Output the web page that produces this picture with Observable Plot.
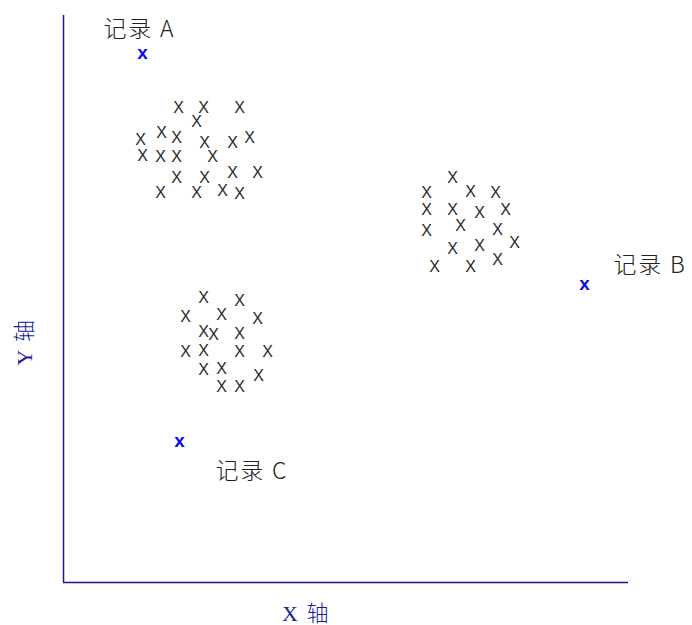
<!DOCTYPE html>
<html>
<head>
<meta charset="utf-8">
<script src="https://cdn.jsdelivr.net/npm/d3@7"></script>
<script src="https://cdn.jsdelivr.net/npm/@observablehq/plot@0.6"></script>
<style>
  html, body { margin: 0; padding: 0; background: #fff; }
</style>
</head>
<body>
<div id="chart"></div>
<script>
// Ordinary records (grey "X" marks), three clusters
const clusterX = [
  115, 140, 176, 133, 77, 98, 113, 141, 169, 186, 79, 97, 113, 149, 113, 141, 169, 194, 97, 133, 159, 176,
  140, 176, 122, 158, 194, 140, 150, 176, 122, 140, 176, 204, 140, 158, 195, 158, 176,
  389, 363, 407, 432, 363, 389, 416, 442, 363, 397, 434, 389, 416, 451, 371, 407, 434
];
const clusterY = [
  475, 475, 475, 461, 443, 450, 445, 440, 440, 445, 427, 426, 426, 426, 405, 405, 410, 410, 390, 390, 392, 389,
  285, 282, 266, 268, 264, 251, 248, 249, 231, 232, 231, 231, 213, 214, 207, 196, 196,
  405, 390, 391, 390, 373, 373, 370, 373, 352, 357, 353, 334, 337, 340, 316, 316, 323
];

// Highlighted records (blue "x")
const specialX = [79, 521, 116];
const specialY = [530, 299, 142];

// Record labels
const labelText = ["记录 A", "记录 B", "记录 C"];
const labelX = [40, 550, 152];
const labelY = [553, 317, 111];

const axisNames = { x: "X 轴", y: "Y 轴" };

const points = clusterX.map((x, i) => ({ x, y: clusterY[i] }));
const specials = specialX.map((x, i) => ({ x, y: specialY[i] }));
const labels = labelText.map((t, i) => ({ t, x: labelX[i], y: labelY[i] }));

const navy = "#1a1a8c";

const chart = Plot.plot({
  width: 692,
  height: 625,
  marginLeft: 63,
  marginRight: 64,
  marginTop: 15,
  marginBottom: 43,
  x: { domain: [0, 565], axis: null },
  y: { domain: [0, 567], axis: null },
  style: { background: "#fff", fontFamily: "'Liberation Sans', Arial, sans-serif" },
  marks: [
    Plot.ruleX([0], { stroke: navy, strokeWidth: 1.5 }),
    Plot.ruleY([0], { stroke: navy, strokeWidth: 1.5 }),
    Plot.text(points, {
      x: "x", y: "y", text: () => "X",
      fontSize: 16, fill: "#2a2a2a",
      fontFamily: "'Liberation Sans', Arial, sans-serif"
    }),
    Plot.text(specials, {
      x: "x", y: "y", text: () => "x",
      fontSize: 19, fontWeight: "bold", fill: "#0a0af0",
      fontFamily: "'Liberation Sans', Arial, sans-serif"
    }),
    Plot.text(labels, {
      x: "x", y: "y", text: "t", textAnchor: "start",
      fontSize: 23, fill: "#222", fontWeight: 300,
      fontFamily: "'Noto Sans CJK SC', sans-serif"
    }),
    Plot.text([axisNames.x], {
      frameAnchor: "bottom", textAnchor: "middle", lineAnchor: "middle",
      dx: -40, dy: 31,
      fontSize: 22, fill: "#1c1c96", fontWeight: 300,
      fontFamily: "'Liberation Serif', 'Noto Sans CJK SC', serif"
    }),
    Plot.text([axisNames.y], {
      frameAnchor: "left", textAnchor: "middle", lineAnchor: "middle",
      dx: -39, dy: 43, rotate: -90,
      fontSize: 22, fill: "#1c1c96", fontWeight: 300,
      fontFamily: "'Liberation Serif', 'Noto Sans CJK SC', serif"
    })
  ]
});

// widen spacing of the record labels and axis names, as in the reference
d3.select(chart).selectAll("text").each(function () {
  const t = this.textContent;
  if (labelText.includes(t)) this.style.letterSpacing = "1.8px";
  else if (t === axisNames.x || t === axisNames.y) this.style.letterSpacing = "1.5px";
});

document.getElementById("chart").appendChild(chart);
</script>
</body>
</html>
